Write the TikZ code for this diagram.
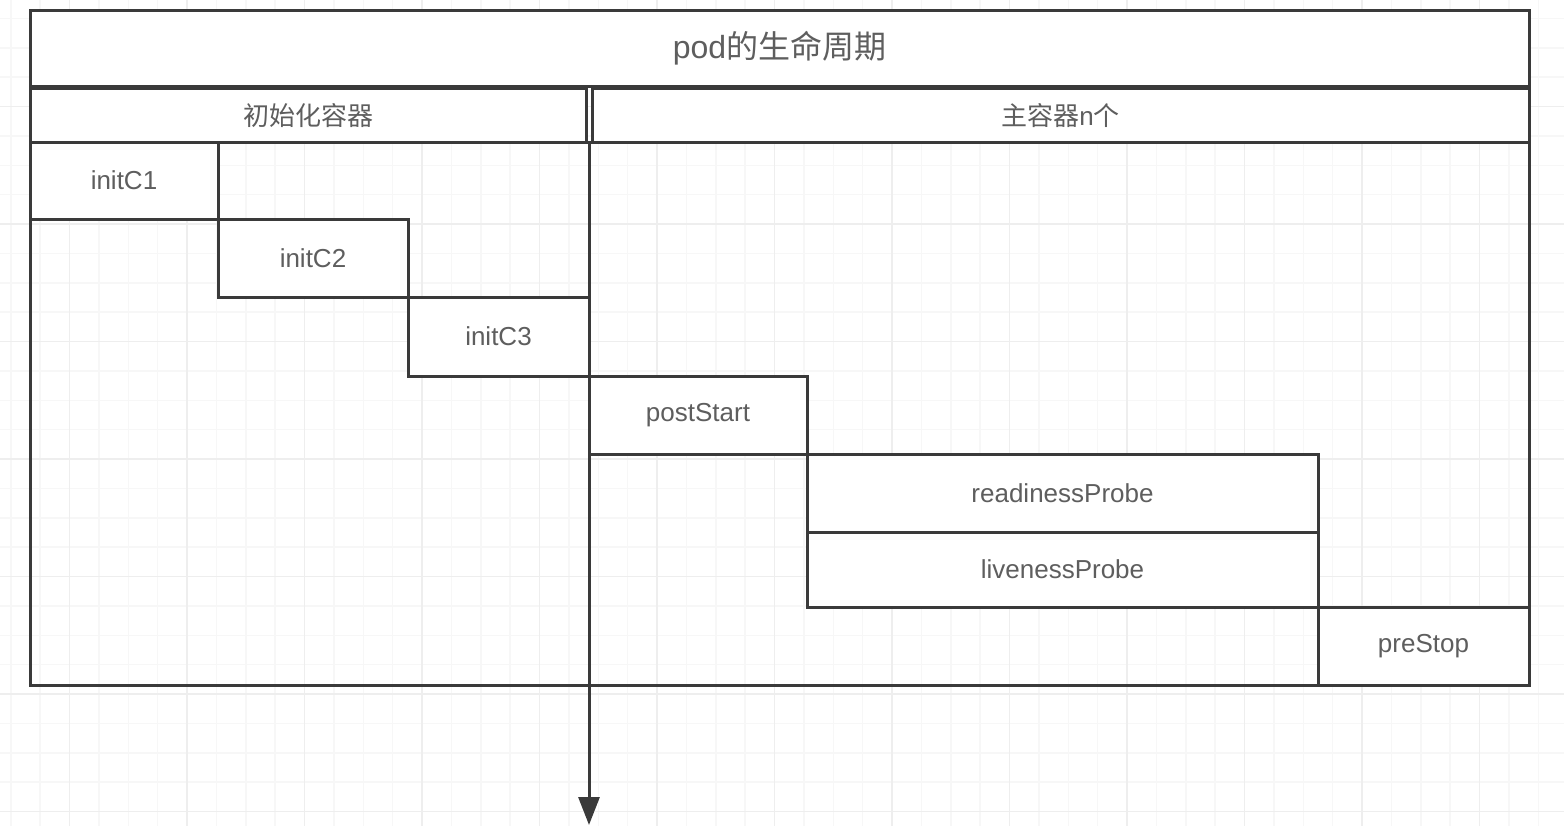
\documentclass[tikz,border=0pt]{standalone}
\usepackage{fontspec}
\setmainfont{Liberation Sans}
\newfontfamily\cjk{Noto Sans CJK SC}
\usepackage{xcolor}
\usepackage{tikz}
\usetikzlibrary{arrows.meta, positioning}
\definecolor{linegray}{HTML}{3A3A3A}
\definecolor{textgray}{HTML}{5E5E5E}
\definecolor{gridminor}{HTML}{F7F7F7}
\definecolor{gridmajor}{HTML}{EEEEEE}
\tikzset{
    boxnode/.style = {draw=linegray, fill=white, rectangle, line width=1.5pt, inner sep=0em, 
      outer sep=0pt, anchor=north west, text=textgray, font=\fontsize{13}{15}\selectfont},
    titlenode/.style = {boxnode, font=\fontsize{16}{19}\selectfont},
    framenode/.style = {boxnode, fill=none},
    minorline/.style = {draw=gridminor, line width=0.75pt},
    majorline/.style = {draw=gridmajor, line width=0.75pt},
    connect/.style = {draw=linegray, line width=1.5pt, -{Triangle[length=14pt, width=10.5pt]}}
}
\begin{document}
\begin{tikzpicture}[x=0.5pt, y=-0.5pt]
    \useasboundingbox (0,0) rectangle (1564,826);

    % background grid
    \foreach \k in {0,...,52} \draw [minorline] ({10.75+\k*29.375},0) -- ({10.75+\k*29.375},826);
    \foreach \k in {0,...,27} \draw [minorline] (0,{18.375+\k*29.375}) -- (1564,{18.375+\k*29.375});
    \foreach \k in {0,...,12} \draw [majorline] ({69.5+\k*117.5},0) -- ({69.5+\k*117.5},826);
    \foreach \k in {0,...,6} \draw [majorline] (0,{106.5+\k*117.5}) -- (1564,{106.5+\k*117.5});

    \node [name=title, titlenode, minimum width=749.5pt, minimum height=38.25pt] at (30,10) 
        {pod{\cjk 的生命周期}};
    \node [name=hdrinit, boxnode, minimum width=278pt, minimum height=26.75pt] at (30,88.5) 
        {\cjk 初始化容器};
    \node [name=hdrmain, boxnode, minimum width=468.5pt, minimum height=26.75pt] at (592,88.5) 
        {{\cjk 主容器}n{\cjk 个}};
    \node [name=body, framenode, minimum width=749.5pt, minimum height=271.5pt] at (30,142) {};

    \node [name=initc1, boxnode, minimum width=94pt, minimum height=38.5pt] at (30,142) {initC1};
    \node [name=initc2, boxnode, minimum width=95pt, minimum height=39pt] at (initc1.south east) {initC2};
    \node [name=initc3, boxnode, minimum width=90.5pt, minimum height=39.5pt] at (initc2.south east) {initC3};

    \node [name=poststart, boxnode, minimum width=109pt, minimum height=39pt] at (initc3.south east) {postStart};
    \node [name=readiness, boxnode, minimum width=255.5pt, minimum height=39pt] at (poststart.south east) {readinessProbe};
    \node [name=liveness, boxnode, minimum width=255.5pt, minimum height=37.5pt] at (readiness.south west) {livenessProbe};
    \node [name=prestop, boxnode, minimum width=105.5pt, minimum height=39pt] at (liveness.south east) {preStop};

    % time axis
    \coordinate (tstart) at (initc3.south east |- body.north);
    \coordinate (tend) at (initc3.south east |- 0,825);
    \draw [connect] (tstart) -- (tend);
\end{tikzpicture}
\end{document}
